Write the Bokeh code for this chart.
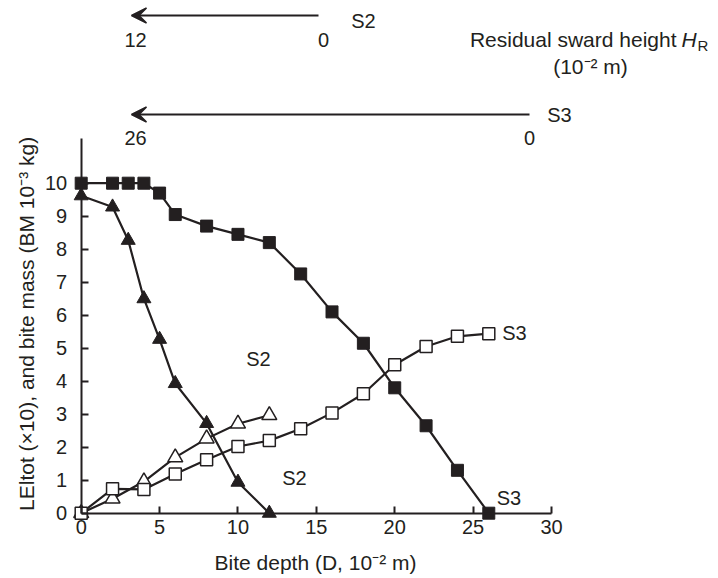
import math
from bokeh.plotting import figure
from bokeh.models import Range1d, FixedTicker, Arrow, VeeHead
from bokeh.core.properties import value
from bokeh.embed import file_html
from bokeh.resources import INLINE

# ---- data ----
depth_s3 = [0, 2, 3, 4, 5, 6, 8, 10, 12, 14, 16, 18, 20, 22, 24, 26]
letot_s3 = [10.0, 10.0, 10.0, 10.0, 9.7, 9.05, 8.7, 8.45, 8.2, 7.25, 6.1, 5.15, 3.8, 2.65, 1.3, 0.0]

depth_s2 = [0, 2, 3, 4, 5, 6, 8, 10, 12]
letot_s2 = [9.62, 9.28, 8.27, 6.5, 5.27, 3.93, 2.72, 0.94, 0.0]

depth_bm_s2 = [0, 2, 4, 6, 8, 10, 12]
bm_s2 = [0.0, 0.44, 0.96, 1.69, 2.26, 2.71, 2.97]

depth_bm_s3 = [0, 2, 4, 6, 8, 10, 12, 14, 16, 18, 20, 22, 24, 26]
bm_s3 = [0.0, 0.74, 0.72, 1.19, 1.62, 2.02, 2.2, 2.56, 3.04, 3.62, 4.5, 5.05, 5.36, 5.44]

x_ticks = [0, 5, 10, 15, 20, 25, 30]
y_ticks = [0, 1, 2, 3, 4, 5, 6, 7, 8, 9, 10]

INK = "#231f20"
FONT = "Liberation Sans"

W, H = 718, 578
# pixel mapping: x=0 -> 80.7 px, 30 -> 551 px ; y=0 -> 512.7 px, 10 -> 182.7 px
sx = (551.0 - 80.7) / 30.0
sy = 33.0
x0 = -80.7 / sx
x1 = x0 + W / sx
y1 = 512.7 / sy
y0 = y1 - H / sy

p = figure(width=W, height=H, x_range=Range1d(x0, x1), y_range=Range1d(y0, y1),
           output_backend="svg", toolbar_location=None,
           min_border_left=0, min_border_right=0, min_border_top=0, min_border_bottom=0)
p.outline_line_color = None
p.grid.visible = False
p.background_fill_color = "white"
p.border_fill_color = "white"

for ax in (p.xaxis[0], p.yaxis[0]):
    ax.axis_line_color = INK
    ax.axis_line_width = 2
    ax.major_tick_line_color = INK
    ax.major_tick_line_width = 2
    ax.major_tick_in = 7
    ax.major_tick_out = 0
    ax.minor_tick_line_color = None
    ax.major_label_text_font = FONT
    ax.major_label_text_font_size = "20px"
    ax.major_label_text_color = INK

p.xaxis.fixed_location = 0
p.yaxis.fixed_location = 0
p.xaxis.ticker = FixedTicker(ticks=x_ticks)
p.yaxis.ticker = FixedTicker(ticks=y_ticks)
p.xaxis.bounds = (0, 30)
p.yaxis.bounds = (0, 11.35)
p.xaxis.major_label_standoff = 7
p.yaxis.major_label_standoff = 14

# ---- series ----
p.line(depth_s3, letot_s3, line_color=INK, line_width=2.2)
p.line(depth_s2, letot_s2, line_color=INK, line_width=2.2)
p.line(depth_bm_s2, bm_s2, line_color=INK, line_width=2.2)
p.line(depth_bm_s3, bm_s3, line_color=INK, line_width=2.2)

p.scatter(depth_s3, letot_s3, marker="square", size=12, fill_color=INK, line_color=INK)
p.scatter(depth_s2, letot_s2, marker="triangle", size=14, fill_color=INK, line_color=INK)
p.scatter(depth_bm_s2, bm_s2, marker="triangle", size=15, fill_color="white", line_color=INK, line_width=1.5)
p.scatter(depth_bm_s3, bm_s3, marker="square", size=12, fill_color="white", line_color=INK, line_width=1.5)

def txt(x, y, s, size="21px", align="center", baseline="middle", angle=0.0, style="normal"):
    p.text(x=[x], y=[y], text=[s], text_font=value(FONT), text_font_size=value(size),
           text_align=align, text_baseline=baseline, angle=angle, text_color=INK,
           text_font_style=style)

def X(px):
    return (px - 80.7) / sx

def Y(py):
    return (512.7 - py) / sy

# series labels
txt(X(258), Y(358), "S2", size="20px")
txt(X(294), Y(477), "S2", size="20px")
txt(X(514), Y(332), "S3", size="20px")
txt(X(508.5), Y(497), "S3", size="20px")

# axis titles
txt(X(315), Y(561.7), "Bite depth (D, 10\u207b\u00b2 m)")
txt(X(26), Y(323.4), "LEltot (\u00d710), and bite mass (BM 10\u207b\u00b3 kg)", size="21px", angle=math.pi / 2)

# top: residual sward height scales
p.add_layout(Arrow(end=VeeHead(size=15, fill_color=INK, line_color=INK, line_width=1.5),
                   x_start=X(318), y_start=Y(15), x_end=X(131), y_end=Y(15),
                   line_width=1.8, line_color=INK))
p.add_layout(Arrow(end=VeeHead(size=15, fill_color=INK, line_color=INK, line_width=1.5),
                   x_start=X(529), y_start=Y(114), x_end=X(131), y_end=Y(114),
                   line_width=1.8, line_color=INK))
txt(X(350.7), Y(20), "S2", size="20px", align="left")
txt(X(135), Y(39), "12", size="20px")
txt(X(323), Y(39), "0", size="20px")
txt(X(546.7), Y(114), "S3", size="20px", align="left")
txt(X(135), Y(137), "26", size="20px")
txt(X(529), Y(137), "0", size="20px")

txt(X(676), Y(39), "Residual sward height", align="right")
txt(X(681), Y(39), "H", align="left", style="italic")
txt(X(697), Y(45), "R", size="15px", align="left")
txt(X(590), Y(66), "(10\u207b\u00b2 m)")

open("out.html", "w").write(file_html(p, INLINE))
